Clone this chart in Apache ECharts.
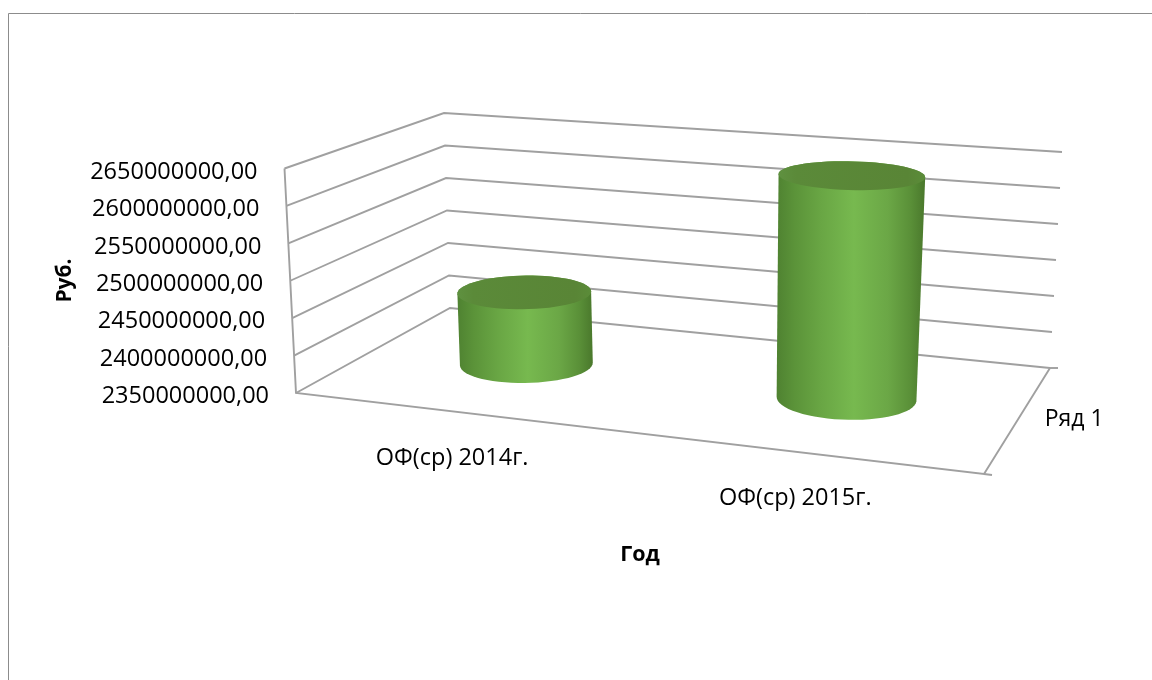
<!DOCTYPE html>
<html>
<head>
<meta charset="utf-8">
<style>
  html, body { margin: 0; padding: 0; background: #fff; }
  #chart { width: 1152px; height: 680px; }
</style>
<script src="https://cdn.jsdelivr.net/npm/echarts@6/dist/echarts.min.js"></script>
</head>
<body>
<div id="chart"></div>
<script>
const categories = ['ОФ(ср) 2014г.', 'ОФ(ср) 2015г.']
const seriesName = 'Ряд 1'
const values = [2450000000, 2646000000]
const yTicks = [2350000000, 2400000000, 2450000000, 2500000000, 2550000000, 2600000000, 2650000000]

const FONT = '"Open Sans", sans-serif'
const GRID = { left: 296, top: 168, width: 688, height: 225 }

// углы пола и верхней плоскости: передний левый, передний правый, задний правый, задний левый
const FLOOR = [[296, 393], [984, 474], [1050, 368], [450, 308]]
const TOP = [[284.5, 168.5], [1005, 225], [1062, 152], [444, 113]]

// единичный квадрат -> четырёхугольник
function quadMap(q) {
  const [[x0, y0], [x1, y1], [x2, y2], [x3, y3]] = q
  const dx1 = x1 - x2, dx2 = x3 - x2, sx = x0 - x1 + x2 - x3
  const dy1 = y1 - y2, dy2 = y3 - y2, sy = y0 - y1 + y2 - y3
  const den = dx1 * dy2 - dx2 * dy1
  const g = (sx * dy2 - dx2 * sy) / den
  const h = (dx1 * sy - sx * dy1) / den
  const a = x1 - x0 + g * x1, b = x3 - x0 + h * x3
  const d = y1 - y0 + g * y1, e = y3 - y0 + h * y3
  return (u, v) => {
    const w = g * u + h * v + 1
    return [(a * u + b * v + x0) / w, (d * u + e * v + y0) / w]
  }
}
const floorMap = quadMap(FLOOR)
const topMap = quadMap(TOP)

// u - вдоль категорий, h - по высоте, d - в глубину
function project(u, h, d) {
  const a = floorMap(u, d), b = topMap(u, d)
  return [a[0] + (b[0] - a[0]) * h, a[1] + (b[1] - a[1]) * h]
}

// координаты скрытой сетки -> доли осей
function toUnit(pt) {
  return [(pt[0] - GRID.left) / GRID.width, (GRID.top + GRID.height - pt[1]) / GRID.height]
}

function hull(pts) {
  const p = pts.slice().sort((a, b) => a[0] - b[0] || a[1] - b[1])
  const cross = (o, a, b) => (a[0] - o[0]) * (b[1] - o[1]) - (a[1] - o[1]) * (b[0] - o[0])
  const half = (list) => {
    const out = []
    list.forEach(q => {
      while (out.length > 1 && cross(out[out.length - 2], out[out.length - 1], q) <= 0) out.pop()
      out.push(q)
    })
    out.pop()
    return out
  }
  return half(p).concat(half(p.reverse()))
}

const lineStyle = { stroke: '#a0a0a0', lineWidth: 1.9, fill: null }
const R_U = 0.1, R_D = 0.2

function renderWall(params, api) {
  const tick = api.value(0)
  const h = toUnit(api.coord([0, tick]))[1]
  const left = project(0, h, 0)
  return {
    type: 'group',
    children: [
      {
        type: 'polyline', silent: true,
        shape: { points: [left, project(0, h, 1), project(1, h, 1)] },
        style: lineStyle
      },
      {
        type: 'text', silent: true, x: left[0] - 27, y: left[1] + 3.5,
        style: {
          text: tick.toFixed(2).replace('.', ','), font: '23.5px ' + FONT,
          fill: '#000', align: 'right', verticalAlign: 'middle'
        }
      }
    ]
  }
}

function renderFloor() {
  const stub = 8
  const fr = project(1, 0, 0), br = project(1, 0, 1)
  return {
    type: 'group',
    children: [
      { type: 'polyline', silent: true, shape: { points: [project(0, 1, 0), project(0, 0, 0), fr, br] }, style: lineStyle },
      { type: 'line', silent: true, shape: { x1: fr[0], y1: fr[1], x2: fr[0] + stub, y2: fr[1] + 1 }, style: lineStyle },
      { type: 'line', silent: true, shape: { x1: br[0], y1: br[1], x2: br[0] + stub, y2: br[1] }, style: lineStyle },
      {
        type: 'text', silent: true, x: project(1, 0, 0.5)[0] + 25, y: project(1, 0, 0.5)[1] + 3,
        style: { text: seriesName, font: '23px ' + FONT, fill: '#000', align: 'left', verticalAlign: 'middle' }
      }
    ]
  }
}

function renderCylinder(params, api) {
  const i = api.value(0)
  const top = toUnit(api.coord([i, api.value(1)]))
  const u = top[0], h = top[1]
  const ring = (lvl) => {
    const pts = []
    for (let k = 0; k < 64; k++) {
      const t = k / 64 * Math.PI * 2
      pts.push(project(u + R_U * Math.cos(t), lvl, 0.5 + R_D * Math.sin(t)))
    }
    return pts
  }
  const upper = ring(h)
  const front = project(u, 0, 0)
  return {
    type: 'group',
    children: [
      {
        type: 'polygon', silent: true,
        shape: { points: hull(upper.concat(ring(0))) },
        style: {
          fill: new echarts.graphic.LinearGradient(0, 0, 1, 0, [
            { offset: 0, color: '#4f8231' },
            { offset: 0.12, color: '#5b9339' },
            { offset: 0.3, color: '#69a644' },
            { offset: 0.52, color: '#77b94f' },
            { offset: 0.75, color: '#6ba746' },
            { offset: 0.9, color: '#5a9038' },
            { offset: 1, color: '#4a782c' }
          ])
        }
      },
      {
        type: 'polygon', silent: true,
        shape: { points: upper },
        style: {
          fill: new echarts.graphic.LinearGradient(0, 0, 1, 0, [
            { offset: 0, color: '#5f9140' },
            { offset: 0.12, color: '#5b8a39' },
            { offset: 0.88, color: '#598536' },
            { offset: 1, color: '#5b8c39' }
          ])
        }
      },
      {
        type: 'text', silent: true, x: front[0] - 1.5, y: front[1] + 46.5,
        style: {
          text: categories[i], font: '23.5px ' + FONT, fill: '#000',
          align: 'center', verticalAlign: 'middle'
        }
      }
    ]
  }
}

const chart = echarts.init(document.getElementById('chart'), null, { renderer: 'canvas' })
chart.setOption({
  animation: false,
  backgroundColor: '#fff',
  graphic: [{
    type: 'polyline', silent: true,
    shape: { points: [[8.5, 680], [8.5, 13.5], [1152, 13.5]] },
    style: { stroke: '#8c8c8c', lineWidth: 1, fill: null }
  }],
  grid: { left: GRID.left, top: GRID.top, width: GRID.width, height: GRID.height },
  xAxis: {
    type: 'category', data: categories,
    axisLine: { show: false }, axisTick: { show: false }, axisLabel: { show: false },
    name: 'Год', nameLocation: 'middle', nameGap: 151,
    nameTextStyle: { fontFamily: FONT, fontSize: 21.5, fontWeight: 'bold', color: '#000' }
  },
  yAxis: {
    type: 'value', min: yTicks[0], max: yTicks[yTicks.length - 1], interval: 50000000,
    axisLine: { show: false }, axisTick: { show: false }, axisLabel: { show: false }, splitLine: { show: false },
    name: 'Руб.', nameLocation: 'middle', nameGap: 220,
    nameTextStyle: { fontFamily: FONT, fontSize: 21, fontWeight: 'bold', color: '#000' }
  },
  series: [
    { type: 'custom', name: 'wall', renderItem: renderWall, data: yTicks.map(t => [t]), encode: { y: 0 }, silent: true, z: 1 },
    { type: 'custom', name: 'floor', renderItem: renderFloor, data: [[0]], silent: true, z: 1 },
    {
      type: 'custom', name: seriesName, renderItem: renderCylinder,
      data: values.map((v, i) => [i, v]), encode: { x: 0, y: 1 }, silent: true, z: 2
    }
  ]
})
</script>
</body>
</html>
